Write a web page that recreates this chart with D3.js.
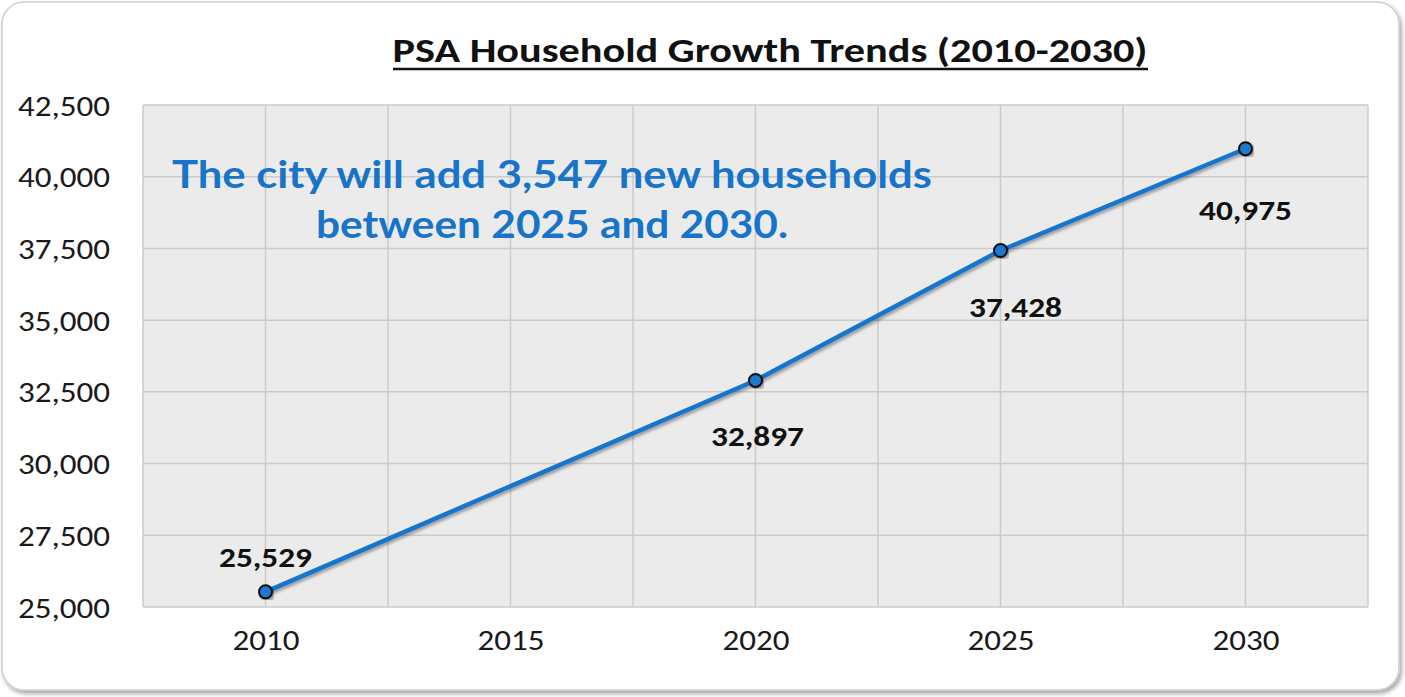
<!DOCTYPE html>
<html>
<head>
<meta charset="utf-8">
<script src="https://cdn.jsdelivr.net/npm/d3@7"></script>
<style>
  body { margin: 0; background: #fff; }
  svg { display: block; }
</style>
</head>
<body>
<svg id="chart" width="1405" height="697"></svg>
<script>
// data
var years = ["2010", "2015", "2020", "2025", "2030"];
var households = [25529, null, 32897, 37428, 40975];
var yTicks = [25000, 27500, 30000, 32500, 35000, 37500, 40000, 42500];
var titleText = "PSA Household Growth Trends (2010-2030)";
var noteLines = ["The city will add 3,547 new households", "between 2025 and 2030."];

var svg = d3.select("#chart");
var W = 1405, H = 697;
var plotL = 143, plotR = 1368, plotT = 105, plotB = 607;
var baseFont = "Carlito, 'Open Sans', sans-serif";

var defs = svg.append("defs");
var sh = defs.append("filter").attr("id", "cardShadow").attr("x", "-5%").attr("y", "-5%").attr("width", "110%").attr("height", "110%");
sh.append("feDropShadow").attr("dx", 2).attr("dy", 3).attr("stdDeviation", 2).attr("flood-color", "#000").attr("flood-opacity", 0.35);
var lsh = defs.append("filter").attr("id", "lineShadow").attr("x", "-10%").attr("y", "-10%").attr("width", "120%").attr("height", "120%");
lsh.append("feDropShadow").attr("dx", 2).attr("dy", 2).attr("stdDeviation", 1.5).attr("flood-color", "#000").attr("flood-opacity", 0.35);

// card
svg.append("rect")
  .attr("x", 2).attr("y", 2).attr("width", W - 8).attr("height", H - 9)
  .attr("rx", 22).attr("ry", 22)
  .attr("fill", "#fff").attr("stroke", "#cfcfcf").attr("stroke-width", 1.5)
  .attr("filter", "url(#cardShadow)");

var x = d3.scalePoint().domain(years).range([plotL, plotR]).padding(0.5);
var y = d3.scaleLinear().domain([25000, 42500]).range([plotB, plotT]);
var step = x.step();

// plot background
svg.append("rect")
  .attr("x", plotL).attr("y", plotT).attr("width", plotR - plotL).attr("height", plotB - plotT)
  .attr("fill", "#ebebeb");

// horizontal grid
svg.append("g").selectAll("line").data(yTicks).join("line")
  .attr("x1", plotL).attr("x2", plotR)
  .attr("y1", function(d) { return y(d); }).attr("y2", function(d) { return y(d); })
  .attr("stroke", "#cbcbcb").attr("stroke-width", 1.5);

// vertical grid: category centres and boundaries
var vLines = [];
years.forEach(function(yr) { vLines.push(x(yr) - step / 2); vLines.push(x(yr)); });
vLines.push(plotR);
svg.append("g").selectAll("line").data(vLines).join("line")
  .attr("x1", function(d) { return d; }).attr("x2", function(d) { return d; })
  .attr("y1", plotT).attr("y2", plotB)
  .attr("stroke", "#cbcbcb").attr("stroke-width", 1.5);

// y axis labels
var yAxis = svg.append("g").attr("transform", "translate(" + (plotL - 33) + ",0)")
  .call(d3.axisLeft(y).tickValues(yTicks).tickFormat(d3.format(",")).tickSize(0).tickPadding(0));
yAxis.select(".domain").remove();
yAxis.selectAll("text")
  .attr("font-family", baseFont).attr("font-size", 28).attr("fill", "#1a1a1a")
  .attr("dy", "0.36em").attr("textLength", 92).attr("lengthAdjust", "spacingAndGlyphs");

// x axis labels
var xAxis = svg.append("g").attr("transform", "translate(0," + plotB + ")")
  .call(d3.axisBottom(x).tickSize(0).tickPadding(0));
xAxis.select(".domain").remove();
xAxis.selectAll("text")
  .attr("font-family", baseFont).attr("font-size", 28).attr("fill", "#1a1a1a")
  .attr("y", 43).attr("dy", 0).attr("textLength", 67).attr("lengthAdjust", "spacingAndGlyphs");

// title
svg.append("text")
  .attr("x", 770).attr("y", 62).attr("text-anchor", "middle")
  .attr("font-family", baseFont).attr("font-weight", "bold").attr("font-size", 34)
  .attr("fill", "#111").attr("textLength", 755).attr("lengthAdjust", "spacingAndGlyphs")
  .text(titleText);
svg.append("line").attr("x1", 393).attr("x2", 1148).attr("y1", 69).attr("y2", 69)
  .attr("stroke", "#111").attr("stroke-width", 2.5);

// annotation
var noteLen = [760, 472];
var noteY = [188, 238];
svg.append("g").selectAll("text").data(noteLines).join("text")
  .attr("x", 552).attr("y", function(d, i) { return noteY[i]; })
  .attr("text-anchor", "middle")
  .attr("font-family", "Lato, 'Open Sans', sans-serif").attr("font-weight", "bold").attr("font-size", 38)
  .attr("fill", "#1874c8")
  .attr("textLength", function(d, i) { return noteLen[i]; }).attr("lengthAdjust", "spacingAndGlyphs")
  .text(function(d) { return d; });

// series
var pts = years.map(function(yr, i) { return {year: yr, value: households[i]}; })
  .filter(function(d) { return d.value != null; });

var line = d3.line().x(function(d) { return x(d.year); }).y(function(d) { return y(d.value); });
svg.append("path").datum(pts)
  .attr("d", line).attr("fill", "none")
  .attr("stroke", "#1874cd").attr("stroke-width", 4.5).attr("stroke-linejoin", "round")
  .attr("filter", "url(#lineShadow)");

svg.append("g").selectAll("circle").data(pts).join("circle")
  .attr("cx", function(d) { return x(d.year); }).attr("cy", function(d) { return y(d.value); })
  .attr("r", 6.5).attr("fill", "#1c78d2").attr("stroke", "#111").attr("stroke-width", 2)
  .attr("filter", "url(#lineShadow)");

// data labels (offset from point)
var labelOffset = {"2010": [0, -25], "2020": [2, 66], "2025": [15, 67], "2030": [0, 71]};
svg.append("g").selectAll("text").data(pts).join("text")
  .attr("x", function(d) { return x(d.year) + labelOffset[d.year][0]; })
  .attr("y", function(d) { return y(d.value) + labelOffset[d.year][1]; })
  .attr("text-anchor", "middle")
  .attr("font-family", baseFont).attr("font-weight", "bold").attr("font-size", 28)
  .attr("fill", "#111").attr("textLength", 93).attr("lengthAdjust", "spacingAndGlyphs")
  .text(function(d) { return d3.format(",")(d.value); });
</script>
</body>
</html>
